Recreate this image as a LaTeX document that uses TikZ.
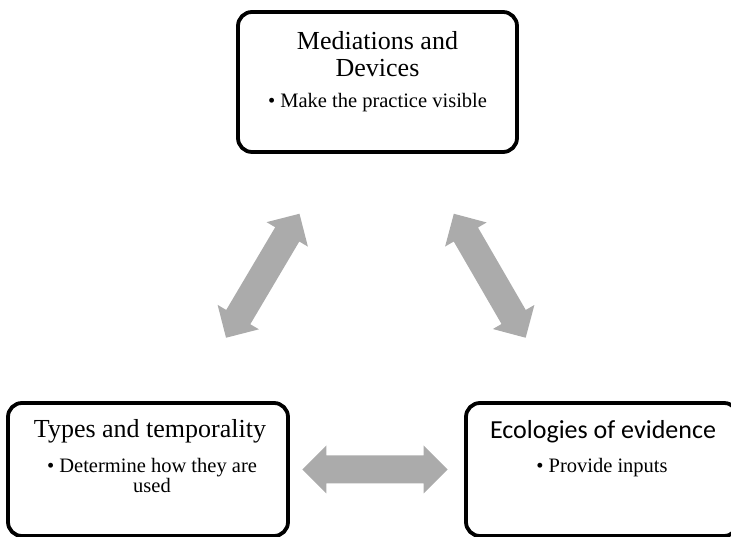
\documentclass[tikz,border=0pt]{standalone}
\usepackage{fontspec}
\setmainfont{Liberation Serif}
\newfontfamily\carlito{Carlito}
\usetikzlibrary{calc,positioning}
\definecolor{arrowgray}{RGB}{171,171,171}
\tikzset{
  box/.style={draw=black, line width=3.8pt, rounded corners=14pt, outer sep=0pt, inner sep=0pt},
  headfont/.style={font=\fontsize{26}{27}\selectfont},
  itemfont/.style={font=\fontsize{20.5}{20}\selectfont}
}
% filled two-headed block arrow from tip #1 to tip #2
\newcommand{\twowayarrow}[2]{%
  \coordinate (h1) at ($(#1)!24pt!(#2)$);
  \coordinate (h2) at ($(#2)!24pt!(#1)$);
  \fill[arrowgray] (#1) -- ($(h1)!24pt!90:(#1)$) -- ($(h1)!14pt!90:(#1)$)
    -- ($(h2)!14pt!-90:(#2)$) -- ($(h2)!24pt!-90:(#2)$) -- (#2)
    -- ($(h2)!24pt!90:(#2)$) -- ($(h2)!14pt!90:(#2)$)
    -- ($(h1)!14pt!-90:(#1)$) -- ($(h1)!24pt!-90:(#1)$) -- cycle;}
\begin{document}
\begin{tikzpicture}[x=1pt,y=1pt]
\useasboundingbox (0,0) rectangle (731,537);
\clip (0,0) rectangle (731,537);

\begin{scope}[every node/.style={box}]
    \node[minimum width=279pt, minimum height=140pt] (md) at (377.5,455) {};
    \node[minimum width=280pt, minimum height=133pt] (tt) at (148,67.5) {};
    \node[minimum width=272pt, minimum height=133pt] (ee) at (602,67.5) {};
\end{scope}

\begin{scope}[every node/.style={inner sep=0pt, align=center}]
    \node[headfont, anchor=north] (md-head) at (377.5,506) {Mediations and\\Devices};
    \node[itemfont, anchor=base] (md-item) at (377.5,429) {\textbullet{} Make the practice visible};
    \node[headfont, anchor=base] (tt-head) at (150,99) {Types and temporality};
    \node[itemfont, anchor=north] (tt-item) at (152,79) {\textbullet{} Determine how they are\\used};
    \node[headfont, anchor=base, font=\carlito\fontsize{26}{27}\selectfont] (ee-head) at (603,98) {Ecologies of evidence};
    \node[itemfont, anchor=base] (ee-item) at (602,64) {\textbullet{} Provide inputs};
\end{scope}

\coordinate (tm1) at ($(tt)!0.34!(md)$);
\coordinate (tm2) at ($(tt)!0.66!(md)$);
\coordinate (me1) at ($(md)!0.34!(ee)$);
\coordinate (me2) at ($(md)!0.66!(ee)$);
\coordinate (te1) at ($(tt)!0.34!(ee)$);
\coordinate (te2) at ($(tt)!0.66!(ee)$);

\twowayarrow{tm1}{tm2}
\twowayarrow{me1}{me2}
\twowayarrow{te1}{te2}
\end{tikzpicture}
\end{document}
